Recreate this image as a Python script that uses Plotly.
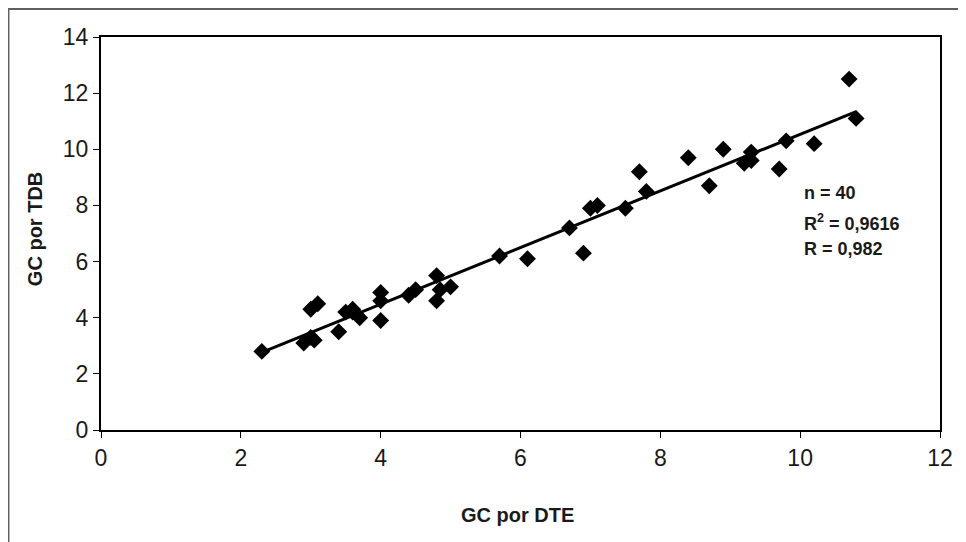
import numpy as np
import plotly.graph_objects as go

# GC por DTE (x) and GC por TDB (y)
gc_dte = [2.3, 2.9, 3.0, 3.0, 3.1, 3.4, 3.5, 3.6, 3.6, 3.7,
          4.0, 4.0, 4.0, 4.4, 4.5, 4.8, 4.8, 4.85, 5.0, 5.7,
          6.1, 6.7, 6.9, 7.0, 7.1, 7.5, 7.7, 7.8, 8.4, 8.7,
          8.9, 9.2, 9.3, 9.3, 9.7, 9.8, 10.2, 10.7, 10.8, 3.05]
gc_tdb = [2.8, 3.1, 3.3, 4.3, 4.5, 3.5, 4.2, 4.3, 4.2, 4.0,
          4.9, 4.6, 3.9, 4.8, 5.0, 5.5, 4.6, 5.0, 5.1, 6.2,
          6.1, 7.2, 6.3, 7.9, 8.0, 7.9, 9.2, 8.5, 9.7, 8.7,
          10.0, 9.5, 9.9, 9.6, 9.3, 10.3, 10.2, 12.5, 11.1, 3.2]

x_ticks = [0, 2, 4, 6, 8, 10, 12]
y_ticks = [0, 2, 4, 6, 8, 10, 12, 14]
x_title = "GC por DTE"
y_title = "GC por TDB"
stats_lines = ["n = 40", "R<sup>2</sup> = 0,9616", "R = 0,982"]

slope, intercept = np.polyfit(gc_dte, gc_tdb, 1)
fit_x = [min(gc_dte), max(gc_dte)]
fit_y = [intercept + slope * v for v in fit_x]

FONT = "Arial, 'Liberation Sans', sans-serif"
TXT = "#1a1a1a"

fig = go.Figure()
fig.add_trace(go.Scatter(
    x=fit_x, y=fit_y, mode="lines",
    line=dict(color="black", width=3), showlegend=False, hoverinfo="skip"))
fig.add_trace(go.Scatter(
    x=gc_dte, y=gc_tdb, mode="markers",
    marker=dict(symbol="diamond", size=13, color="black", line=dict(width=0)),
    showlegend=False))

axis_common = dict(
    showgrid=False, zeroline=False, showline=True, linecolor="black",
    linewidth=2, mirror=True, ticks="outside", ticklen=6, tickwidth=1,
    tickcolor="black", tickfont=dict(family=FONT, size=23, color=TXT),
)

fig.update_xaxes(range=[0, 12], tickvals=x_ticks, **axis_common)
fig.update_yaxes(range=[0, 14], tickvals=y_ticks, **axis_common)

# axis titles
fig.add_annotation(xref="paper", yref="paper", x=0.497, y=-0.216,
                   text="<b>" + x_title + "</b>", showarrow=False,
                   xanchor="center", yanchor="middle",
                   font=dict(family=FONT, size=20, color=TXT))
fig.add_annotation(xref="paper", yref="paper", x=-0.0787, y=0.511,
                   text="<b>" + y_title + "</b>", showarrow=False, textangle=-90,
                   xanchor="center", yanchor="middle",
                   font=dict(family=FONT, size=20, color=TXT))

ys = [0.603, 0.527, 0.461]
for txt, yy in zip(stats_lines, ys):
    fig.add_annotation(xref="paper", yref="paper", x=0.8355, y=yy,
                       text="<b>" + txt + "</b>", showarrow=False,
                       xanchor="left", yanchor="middle",
                       font=dict(family=FONT, size=18, color=TXT))

# outer chart-area border
fig.add_shape(type="rect", xref="paper", yref="paper",
              x0=-0.1103, x1=1.035, y0=-0.35, y1=1.0712,
              line=dict(color="#606060", width=2), fillcolor="rgba(0,0,0,0)", layer="below")

fig.update_layout(
    width=958, height=534,
    margin=dict(l=93, r=26, t=29, b=112),
    paper_bgcolor="white", plot_bgcolor="white",
    font=dict(family=FONT),
)

fig.write_html("out.html")
